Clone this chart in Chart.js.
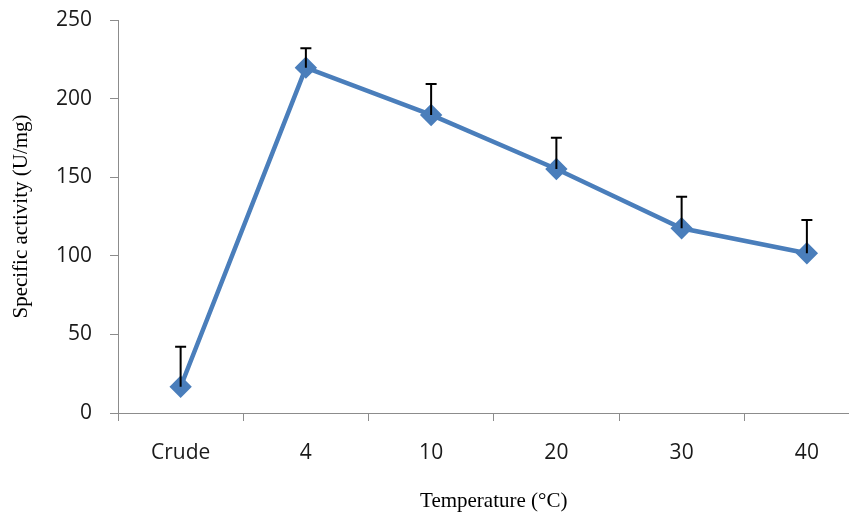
<!DOCTYPE html>
<html>
<head>
<meta charset="utf-8">
<script src="https://cdn.jsdelivr.net/npm/chart.js@4.4.1/dist/chart.umd.min.js"></script>
<style>
  html, body { margin: 0; padding: 0; background: #fff; overflow: hidden; }
  #wrap { width: 882px; height: 517px; }
</style>
</head>
<body>
<div id="wrap"><canvas id="chart"></canvas></div>
<script>
// data
const categories = ['Crude', '4', '10', '20', '30', '40'];
const activity = [16.7, 219.7, 189.6, 155.2, 117.5, 101.6];
const errPlus = [25.5, 12.3, 19.7, 19.9, 20.1, 21.2];
const yTicks = [0, 50, 100, 150, 200, 250];

// draws upward-only error bars from the dataset's own scales
const errorBars = {
  id: 'errorBars',
  afterDatasetsDraw(chart) {
    const { ctx, scales: { x, y } } = chart;
    ctx.save();
    ctx.strokeStyle = '#000';
    ctx.lineWidth = 2;
    activity.forEach((v, i) => {
      const px = x.getPixelForValue(i);
      const y0 = y.getPixelForValue(v);
      const y1 = y.getPixelForValue(v + errPlus[i]);
      ctx.beginPath();
      ctx.moveTo(px, y0);
      ctx.lineTo(px, y1);
      ctx.moveTo(px - 5.5, y1);
      ctx.lineTo(px + 5.5, y1);
      ctx.stroke();
    });
    ctx.restore();
  }
};

const tickFont = { family: '"Open Sans", sans-serif', size: 21 };
const titleFont = { family: '"Liberation Serif", "Times New Roman", serif', size: 21 };

new Chart(document.getElementById('chart'), {
  type: 'line',
  data: {
    labels: categories,
    datasets: [{
      data: activity,
      borderColor: '#4a7ebb',
      backgroundColor: '#4a7ebb',
      borderWidth: 4.5,
      pointStyle: 'rectRot',
      pointRadius: 8,
      pointHoverRadius: 8,
      tension: 0
    }]
  },
  options: {
    responsive: true,
    maintainAspectRatio: false,
    animation: false,
    layout: { padding: { top: 20, right: 0, left: 0, bottom: 0 } },
    plugins: { legend: { display: false }, tooltip: { enabled: false } },
    scales: {
      x: {
        offset: true,
        grid: { drawOnChartArea: false, drawTicks: true, tickLength: 8, color: '#8c8c8c', offset: true },
        border: { color: '#8c8c8c', width: 1 },
        ticks: { font: tickFont, color: '#1a1a1a', padding: 19, maxRotation: 0 },
        title: {
          display: true, text: 'Temperature (°C)', font: titleFont, color: '#000',
          padding: { top: 0, bottom: 3 }
        },
        afterFit(scale) {
          scale.height = 104;
          scale.paddingLeft = 0;
          scale.paddingRight = 0;
        }
      },
      y: {
        min: 0, max: 250,
        afterBuildTicks(scale) { scale.ticks = yTicks.map(v => ({ value: v })); },
        grid: { drawOnChartArea: false, drawTicks: true, tickLength: 8, color: '#8c8c8c' },
        border: { color: '#8c8c8c', width: 1 },
        ticks: { font: tickFont, color: '#1a1a1a', padding: 18 },
        title: {
          display: true, text: 'Specific activity (U/mg)', font: titleFont, color: '#000',
          padding: { top: 9, bottom: 0 }
        },
        afterFit(scale) {
          scale.width = 118;
          scale.paddingTop = 0;
          scale.paddingBottom = 0;
        }
      }
    }
  },
  plugins: [errorBars]
});
</script>
</body>
</html>
